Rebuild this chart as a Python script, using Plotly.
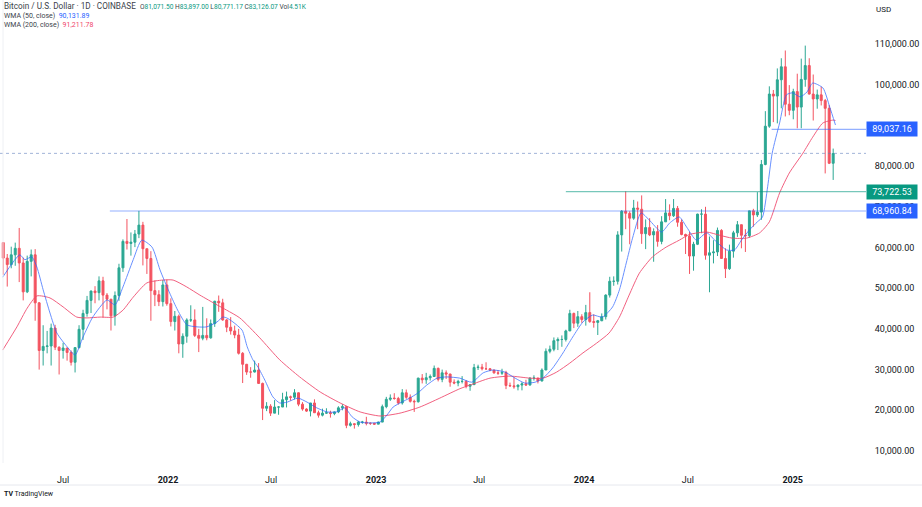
import plotly.graph_objects as go
import pandas as pd

# ---------------- data (weekly candles, values in thousand USD) ----------------
first_week = "2021-03-15"
open_k = [61.2, 57.4, 55.8, 58.2, 59.8, 56.2, 49.1, 56.6, 58.2, 46.4, 34.7, 35.7, 35.8, 40.2, 35.5, 34.7, 35.3, 34.2, 31.8, 35.4,
          39.9, 43.8, 47.0, 49.3, 48.9, 51.8, 48.3, 47.3, 43.2, 48.2, 55.0, 61.5, 61.0, 61.3, 63.3, 65.5, 59.7, 57.3, 49.4, 48.4,
          46.7, 50.8, 46.2, 41.8, 43.1, 36.3, 38.2, 42.2, 42.2, 38.4, 37.7, 38.4, 37.8, 41.3, 46.8, 46.4, 42.2, 40.4, 39.5, 38.5,
          34.0, 31.3, 29.4, 29.4, 29.9, 26.6, 20.5, 21.0, 19.3, 20.8, 20.8, 22.6, 23.3, 23.2, 24.3, 21.5, 20.3, 19.8, 21.8, 19.4,
          18.8, 19.3, 19.4, 19.2, 19.6, 20.6, 20.9, 16.3, 16.7, 16.5, 17.1, 17.1, 16.8, 16.8, 16.6, 17.1, 20.9, 22.7, 23.0, 22.9,
          21.8, 24.3, 23.2, 22.2, 22.1, 27.9, 27.5, 28.0, 28.3, 30.3, 27.6, 29.2, 28.9, 26.9, 26.7, 27.1, 27.1, 25.9, 26.3, 30.5,
          30.6, 30.2, 30.2, 29.9, 29.2, 29.1, 29.3, 26.1, 26.0, 25.8, 26.2, 26.5, 26.2, 27.9, 27.9, 27.2, 29.9, 34.5, 35.0, 37.1,
          37.4, 37.4, 39.5, 43.8, 41.4, 43.0, 42.3, 44.0, 41.8, 41.6, 42.0, 43.0, 48.3, 51.7, 51.7, 63.1, 68.9, 68.4, 67.2, 69.7,
          69.4, 63.4, 64.9, 63.1, 63.9, 61.5, 66.3, 68.5, 67.8, 69.6, 66.2, 63.2, 62.8, 57.9, 60.8, 68.2, 68.2, 58.1, 58.7, 58.9,
          64.2, 57.3, 54.8, 59.1, 63.6, 65.6, 63.0, 62.9, 69.0, 68.0, 68.7, 80.4, 89.8, 97.7, 97.2, 101.2, 104.4, 95.2, 93.7, 98.3,
          94.5, 101.3, 104.7, 97.7, 96.5, 97.5, 96.1, 94.2, 80.7]
high_k = [61.2, 58.4, 60.2, 61.2, 64.8, 57.5, 58.0, 59.5, 59.6, 46.6, 40.9, 39.5, 41.3, 41.0, 35.7, 36.6, 35.3, 34.7, 35.4, 40.9,
          44.7, 48.1, 49.4, 50.5, 52.9, 52.8, 48.8, 47.3, 49.2, 56.0, 62.0, 67.0, 63.7, 64.3, 69.0, 66.3, 59.7, 59.1, 51.9, 49.5,
          52.0, 52.1, 47.5, 44.4, 43.5, 38.9, 42.6, 45.8, 44.8, 40.0, 45.4, 42.6, 42.3, 46.9, 48.2, 47.4, 42.4, 42.9, 40.8, 40.0,
          34.3, 31.4, 30.6, 32.2, 31.6, 26.8, 22.0, 21.5, 22.5, 21.0, 24.3, 24.6, 23.6, 25.2, 24.4, 22.0, 20.5, 21.8, 22.7, 19.9,
          20.4, 20.5, 19.9, 19.7, 21.0, 21.5, 21.0, 17.2, 16.8, 17.4, 17.4, 18.4, 17.0, 16.9, 17.2, 21.4, 23.3, 23.9, 24.2, 23.3,
          25.2, 25.1, 23.9, 22.6, 28.0, 28.9, 29.2, 28.8, 31.0, 30.5, 30.0, 29.8, 29.0, 27.6, 27.5, 28.4, 27.4, 26.4, 31.4, 31.2,
          31.4, 31.8, 30.4, 29.9, 29.9, 30.2, 29.7, 26.8, 28.1, 26.3, 26.9, 27.5, 28.1, 28.6, 28.0, 30.3, 35.2, 35.9, 37.9, 37.9,
          38.4, 39.8, 44.7, 44.0, 44.4, 43.6, 45.9, 49.0, 43.6, 42.2, 43.8, 48.5, 52.8, 52.9, 64.0, 69.2, 73.8, 68.9, 71.7, 71.3,
          72.8, 66.9, 67.2, 64.7, 65.5, 67.7, 71.9, 70.6, 71.9, 70.2, 66.9, 63.4, 63.8, 61.4, 68.3, 69.4, 70.0, 62.7, 61.8, 64.9,
          64.5, 59.8, 60.7, 64.1, 66.5, 65.6, 64.5, 69.0, 69.5, 73.6, 81.5, 93.5, 99.6, 98.7, 104.0, 106.5, 108.4, 99.9, 99.0, 102.7,
          106.4, 109.6, 106.5, 102.5, 98.8, 99.5, 96.5, 95.0, 84.3]
low_k = [53.3, 50.4, 54.9, 55.5, 51.5, 47.0, 48.8, 52.9, 42.0, 30.0, 31.0, 34.0, 31.0, 34.8, 28.8, 32.7, 32.2, 31.0, 29.3, 35.2,
         37.3, 43.0, 43.9, 46.3, 47.0, 42.8, 44.8, 39.6, 40.8, 46.9, 54.0, 59.5, 58.0, 60.1, 62.3, 55.6, 53.5, 42.0, 45.6, 45.6,
         45.5, 45.7, 40.6, 39.6, 34.0, 32.9, 36.6, 41.7, 38.0, 34.3, 37.2, 37.2, 37.6, 40.5, 44.2, 42.0, 39.2, 38.6, 37.7, 33.7,
         26.7, 28.7, 28.0, 29.3, 26.5, 17.6, 19.8, 18.6, 19.3, 18.9, 20.8, 20.7, 22.4, 22.7, 21.0, 19.9, 19.6, 18.5, 19.4, 18.2,
         18.5, 19.1, 18.2, 18.8, 19.3, 20.0, 15.6, 16.0, 15.5, 16.0, 16.7, 16.3, 16.4, 16.4, 16.6, 17.1, 20.5, 22.3, 22.6, 21.4,
         21.4, 22.8, 21.9, 19.6, 21.9, 26.6, 26.5, 27.3, 28.2, 27.1, 26.9, 27.7, 25.8, 26.4, 25.9, 26.6, 25.4, 24.8, 26.3, 29.9,
         29.8, 29.9, 29.6, 29.0, 28.7, 28.7, 25.2, 25.8, 25.3, 24.9, 24.9, 26.0, 26.1, 27.3, 26.6, 27.1, 29.9, 34.0, 34.5, 34.8,
         35.6, 36.9, 39.5, 40.2, 40.5, 41.5, 40.8, 41.5, 40.3, 38.5, 41.9, 42.3, 47.7, 50.6, 50.9, 59.0, 64.5, 60.8, 66.8, 64.5,
         60.9, 59.6, 62.8, 56.5, 60.2, 60.8, 66.3, 66.7, 67.5, 65.1, 63.0, 58.4, 53.5, 54.3, 60.6, 63.5, 57.0, 49.0, 56.1, 57.9,
         57.2, 52.5, 54.5, 57.5, 62.6, 59.8, 58.9, 62.4, 65.1, 67.5, 66.8, 80.2, 89.4, 90.8, 90.5, 94.2, 92.2, 92.5, 91.5, 89.3,
         89.3, 99.5, 97.6, 91.2, 94.1, 94.9, 78.2, 80.5, 76.6]
close_k = [57.4, 55.8, 58.2, 59.8, 56.2, 49.1, 56.6, 58.2, 46.4, 34.7, 35.7, 35.8, 40.2, 35.5, 34.7, 35.3, 34.2, 31.8, 35.4, 39.9,
           43.8, 47.0, 49.3, 48.9, 51.8, 48.3, 47.3, 43.2, 48.2, 55.0, 61.5, 61.0, 61.3, 63.3, 65.5, 59.7, 57.3, 49.4, 48.4, 46.7,
           50.8, 46.2, 41.8, 43.1, 36.3, 38.2, 42.2, 42.2, 38.4, 37.7, 38.4, 37.8, 41.3, 46.8, 46.4, 42.2, 40.4, 39.5, 38.5, 34.0,
           31.3, 29.4, 29.4, 29.9, 26.6, 20.5, 21.0, 19.3, 20.8, 20.8, 22.6, 23.3, 23.2, 24.3, 21.5, 20.3, 19.8, 21.8, 19.4, 18.8,
           19.3, 19.4, 19.2, 19.6, 20.6, 20.9, 16.3, 16.7, 16.5, 17.1, 17.1, 16.8, 16.8, 16.6, 17.1, 20.9, 22.7, 23.0, 22.9, 21.8,
           24.3, 23.2, 22.2, 22.1, 27.9, 27.5, 28.0, 28.3, 30.3, 27.6, 29.2, 28.9, 26.9, 26.7, 27.1, 27.1, 25.9, 26.3, 30.5, 30.6,
           30.2, 30.2, 29.9, 29.2, 29.1, 29.3, 26.1, 26.0, 25.8, 26.2, 26.5, 26.2, 27.9, 27.9, 27.2, 29.9, 34.5, 35.0, 37.1, 37.4,
           37.4, 39.5, 43.8, 41.4, 43.0, 42.3, 44.0, 41.8, 41.6, 42.0, 43.0, 48.3, 51.7, 51.7, 63.1, 68.9, 68.4, 67.2, 69.7, 69.4,
           63.4, 64.9, 63.1, 63.9, 61.5, 66.3, 68.5, 67.8, 69.6, 66.2, 63.2, 62.8, 57.9, 60.8, 68.2, 68.2, 58.1, 58.7, 58.9, 64.2,
           57.3, 54.8, 59.1, 63.6, 65.6, 63.0, 62.9, 69.0, 68.0, 68.7, 80.4, 89.8, 97.7, 97.2, 101.2, 104.4, 95.2, 93.7, 98.3, 94.5,
           101.3, 104.7, 97.7, 96.5, 97.5, 96.1, 94.2, 80.7, 83.1]

# WMA lines (thousand USD)
wma50_dates = ["2021-03-17", "2021-04-16", "2021-04-25", "2021-05-07", "2021-05-16", "2021-05-27", "2021-06-08", "2021-06-20",
               "2021-07-08", "2021-07-22", "2021-08-05", "2021-08-22", "2021-09-16", "2021-09-30", "2021-10-14", "2021-11-01",
               "2021-11-16", "2021-12-04", "2021-12-18", "2022-01-04", "2022-01-18", "2022-02-03", "2022-02-21", "2022-03-10",
               "2022-03-28", "2022-04-07", "2022-04-14", "2022-04-25", "2022-05-11", "2022-05-20", "2022-05-30", "2022-06-08",
               "2022-06-20", "2022-07-04", "2022-07-16", "2022-07-29", "2022-08-17", "2022-09-02", "2022-09-19", "2022-10-07",
               "2022-10-24", "2022-11-07", "2022-11-20", "2022-12-04", "2022-12-21", "2023-01-08", "2023-01-20", "2023-01-31",
               "2023-02-15", "2023-03-01", "2023-03-15", "2023-03-31", "2023-04-18", "2023-05-05", "2023-05-28", "2023-06-18",
               "2023-07-08", "2023-07-25", "2023-08-15", "2023-09-02", "2023-09-19", "2023-10-07", "2023-10-21", "2023-11-07",
               "2023-11-25", "2023-12-12", "2023-12-30", "2024-01-16", "2024-02-02", "2024-02-20", "2024-03-03", "2024-03-15",
               "2024-03-26", "2024-04-10", "2024-04-24", "2024-05-16", "2024-05-30", "2024-06-16", "2024-06-29", "2024-07-16",
               "2024-08-03", "2024-08-20", "2024-09-07", "2024-09-21", "2024-10-03", "2024-10-17", "2024-10-31", "2024-11-09",
               "2024-11-18", "2024-11-26", "2024-12-09", "2024-12-21", "2025-01-01", "2025-01-14", "2025-01-26", "2025-02-05",
               "2025-02-23", "2025-03-07", "2025-03-17"]
wma50_k = [52.7, 58.2, 57.0, 57.7, 55.2, 49.6, 43.9, 39.0,
           35.6, 33.6, 38.0, 42.9, 47.1, 45.9, 50.3, 57.0,
           61.8, 60.1, 54.5, 48.8, 44.6, 41.0, 40.5, 40.5,
           41.7, 42.9, 42.7, 41.7, 39.7, 35.6, 32.4, 30.6,
           27.4, 23.3, 21.8, 22.0, 23.0, 22.0, 20.6, 19.6,
           19.6, 20.6, 18.4, 17.1, 16.9, 17.1, 18.8, 20.8,
           22.0, 23.0, 24.2, 26.2, 27.9, 28.2, 27.9, 26.9,
           29.2, 29.9, 29.4, 27.9, 26.7, 26.9, 27.9, 30.4,
           34.1, 38.0, 41.7, 43.4, 42.9, 45.4, 49.6, 56.2,
           62.3, 68.5, 66.8, 63.8, 66.0, 67.5, 65.0, 61.8,
           63.6, 61.4, 59.4, 59.4, 61.8, 64.3, 66.3, 67.5,
           74.9, 83.2, 90.6, 97.5, 98.0, 97.0, 98.2, 100.4,
           99.2, 94.5, 90.1]

wma200_dates = ["2021-03-17", "2021-04-11", "2021-04-29", "2021-05-16", "2021-06-08", "2021-07-01", "2021-07-25", "2021-08-12",
                "2021-09-04", "2021-09-27", "2021-10-14", "2021-11-01", "2021-11-25", "2021-12-23", "2022-01-10", "2022-02-03",
                "2022-02-26", "2022-03-28", "2022-04-14", "2022-05-07", "2022-06-11", "2022-07-16", "2022-08-20", "2022-09-25",
                "2022-10-30", "2022-12-04", "2023-01-08", "2023-02-12", "2023-03-19", "2023-04-23", "2023-05-28", "2023-06-15",
                "2023-07-20", "2023-08-24", "2023-09-28", "2023-10-21", "2023-11-14", "2023-12-07", "2023-12-30", "2024-01-23",
                "2024-02-14", "2024-03-03", "2024-03-20", "2024-04-07", "2024-04-30", "2024-05-24", "2024-06-16", "2024-07-04",
                "2024-08-03", "2024-08-26", "2024-09-17", "2024-10-12", "2024-11-04", "2024-11-21", "2024-12-09", "2024-12-26",
                "2025-01-19", "2025-02-05", "2025-02-23", "2025-03-13", "2025-03-17"]
wma200_k = [34.8, 40.5, 45.1, 48.1, 47.6, 45.4, 42.9, 42.7,
            42.9, 42.9, 44.6, 47.8, 51.3, 52.0, 52.0, 50.3,
            48.3, 45.9, 44.6, 42.7, 37.8, 32.4, 28.2, 24.5,
            21.8, 19.6, 18.6, 19.3, 20.8, 23.0, 25.3, 26.2,
            27.9, 28.4, 27.9, 27.9, 29.4, 31.6, 34.1, 36.5,
            39.0, 42.9, 48.3, 53.7, 57.7, 60.1, 61.8, 63.2,
            63.8, 63.0, 62.3, 62.3, 63.6, 66.3, 73.4, 78.3,
            83.2, 87.1, 90.6, 91.3, 91.2]

# Horizontal rays: (start date, price, colour key)
ray_starts = ["2021-09-21", "2023-11-30", "2024-11-25"]
ray_prices = [68960.84, 73722.53, 89037.16]
ray_kinds = ["blue", "green", "blue"]

last_price = 83126.07
header_ohlc = ["81,071.50", "83,897.00", "80,771.17", "83,126.07"]
header_vol = "4.51K"
wma50_last = "90,131.89"
wma200_last = "91,211.78"

y_ticks = [10000, 20000, 30000, 40000, 50000, 60000, 70000, 80000, 90000, 100000, 110000]
x_tick_dates = ["2021-07-01", "2022-01-01", "2022-07-01", "2023-01-01", "2023-07-01", "2024-01-01", "2024-07-01", "2025-01-01"]
x_tick_text = ["Jul", "<b>2022</b>", "Jul", "<b>2023</b>", "Jul", "<b>2024</b>", "Jul", "<b>2025</b>"]

# ---------------- styling ----------------
UP = "#089981"
DN = "#F23645"
BLUE = "#2962FF"
PINK = "#F0456A"
TXT = "#131722"
FONT = "Roboto"

X_RANGE = ["2021-03-12 07:00", "2025-05-09 14:00"]
Y_RANGE = [7050, 120810]
PLOT_H = 463
PLOT_W = 866

dates = pd.date_range(first_week, periods=len(close_k), freq="7D") + pd.Timedelta(days=3)

fig = go.Figure()
fig.add_trace(go.Candlestick(
    x=dates,
    open=[v * 1000 for v in open_k], high=[v * 1000 for v in high_k],
    low=[v * 1000 for v in low_k], close=[v * 1000 for v in close_k],
    increasing=dict(line=dict(color=UP, width=1), fillcolor=UP),
    decreasing=dict(line=dict(color=DN, width=1), fillcolor=DN),
    whiskerwidth=0, showlegend=False, hoverinfo="skip", opacity=0.85,
))
fig.add_trace(go.Scatter(x=wma200_dates, y=[v * 1000 for v in wma200_k], mode="lines",
                         line=dict(color=PINK, width=1, shape="spline", smoothing=0.6),
                         opacity=0.85, showlegend=False, hoverinfo="skip"))
fig.add_trace(go.Scatter(x=wma50_dates, y=[v * 1000 for v in wma50_k], mode="lines",
                         line=dict(color=BLUE, width=1, shape="spline", smoothing=0.6),
                         opacity=0.7, showlegend=False, hoverinfo="skip"))

shapes = []
annotations = []
ray_line_col = {"blue": "rgba(41,98,255,0.5)", "green": "rgba(8,153,129,0.55)"}
ray_box_col = {"blue": BLUE, "green": UP}
for start, price, kind in zip(ray_starts, ray_prices, ray_kinds):
    shapes.append(dict(type="line", xref="x", yref="y", x0=start, x1=X_RANGE[1], y0=price, y1=price,
                       line=dict(color=ray_line_col[kind], width=1.2)))
    annotations.append(dict(xref="paper", yref="y", x=1, y=price, xanchor="left", yanchor="middle",
                            text=f"{price:,.2f}", showarrow=False, bgcolor=ray_box_col[kind],
                            font=dict(family=FONT, size=9, color="white"), width=46, borderpad=2, align="center"))

# last price dotted line
shapes.append(dict(type="line", xref="paper", yref="y", x0=0, x1=1, y0=last_price, y1=last_price,
                   line=dict(color="rgba(100,130,190,0.6)", width=1, dash="dot")))
# bottom separator and left border
shapes.append(dict(type="line", xref="paper", yref="paper", x0=0, x1=922 / PLOT_W, y0=-22 / PLOT_H, y1=-22 / PLOT_H,
                   line=dict(color="#e6e8ee", width=1)))
shapes.append(dict(type="line", xref="paper", yref="paper", x0=3 / PLOT_W, x1=3 / PLOT_W, y0=0, y1=1,
                   line=dict(color="#eef0f4", width=1)))

G = "#089981"
num = "font-size:6.6px"
line1 = ("Bitcoin / U.S. Dollar · 1D · COINBASE  "
         f"<span style='{num}'>O<span style='color:{G}'>{header_ohlc[0]}</span> H<span style='color:{G}'>{header_ohlc[1]}</span> "
         f"L<span style='color:{G}'>{header_ohlc[2]}</span> C<span style='color:{G}'>{header_ohlc[3]}</span> "
         f"Vol<span style='color:{G}'>{header_vol}</span></span>")
line2 = f"WMA (50, close)  <span style='color:{BLUE}'>{wma50_last}</span>"
line3 = f"WMA (200, close)  <span style='color:{PINK}'>{wma200_last}</span>"
for txt, ypx, fs in [(line1, 6, 8.2), (line2, 15.5, 7), (line3, 25, 7)]:
    annotations.append(dict(xref="paper", yref="paper", x=0, xshift=2, y=1 - ypx / PLOT_H, xanchor="left",
                            yanchor="middle", text=txt, showarrow=False,
                            font=dict(family=FONT, size=fs, color="#3b3f4a")))
annotations.append(dict(xref="paper", yref="paper", x=1, xshift=8, y=1 - 9 / PLOT_H, xanchor="left", yanchor="middle",
                        text="USD", showarrow=False, font=dict(family=FONT, size=8, color=TXT)))
annotations.append(dict(xref="paper", yref="paper", x=0, xshift=2, y=-31 / PLOT_H, xanchor="left", yanchor="middle",
                        text="<b>TV</b> TradingView", showarrow=False, font=dict(family=FONT, size=7, color=TXT)))

fig.update_layout(
    width=922, height=507,
    margin=dict(l=0, r=922 - PLOT_W, t=0, b=507 - PLOT_H),
    paper_bgcolor="white", plot_bgcolor="white",
    font=dict(family=FONT, color=TXT),
    shapes=shapes, annotations=annotations,
    showlegend=False,
    xaxis=dict(type="date", range=X_RANGE, showgrid=False, zeroline=False, showline=False,
               tickvals=x_tick_dates, ticktext=x_tick_text, ticks="outside", ticklen=8,
               tickcolor="rgba(0,0,0,0)", tickfont=dict(family=FONT, size=9, color=TXT),
               rangeslider=dict(visible=False), fixedrange=True),
    yaxis=dict(side="right", range=Y_RANGE, showgrid=False, zeroline=False, showline=False,
               tickvals=y_ticks, tickformat=",.2f", ticks="outside", ticklen=6,
               tickcolor="rgba(0,0,0,0)", tickfont=dict(family=FONT, size=9, color=TXT), fixedrange=True),
)

fig.write_html("out.html", config={"displayModeBar": False},
               post_script="document.body.style.margin='0';document.body.style.overflow='hidden';")
